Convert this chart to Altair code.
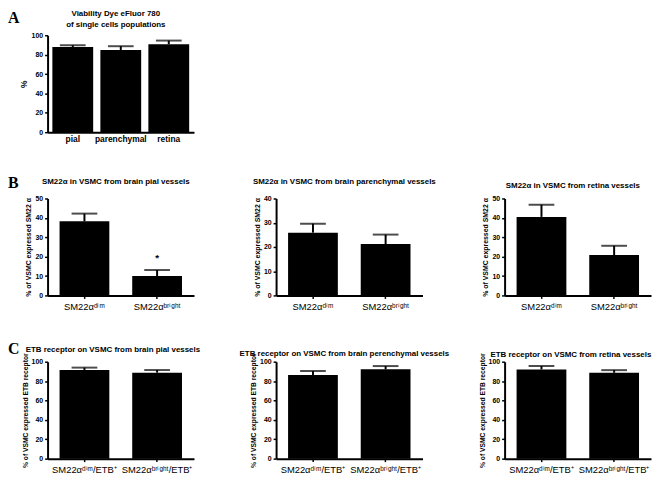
import altair as alt
import pandas as pd

FONT = "Liberation Sans"
SERIF = "Liberation Serif"

# ---- Panel A ----
a_cats = ["pial", "parenchymal", "retina"]
a_vals = [87.8, 84.7, 90.8]
a_errs = [1.9, 4.0, 3.7]
a_title = ["Viability Dye eFluor 780", "of single cells populations"]

# ---- Panel B ----
b_cats = ["SM22αᵈⁱᵐ", "SM22αᵇʳⁱᵍʰᵗ"]
b1_vals = [38.2, 10.0]
b1_errs = [4.0, 3.1]
b1_star = 20.6
b2_vals = [25.9, 21.2]
b2_errs = [3.7, 3.9]
b3_vals = [40.5, 20.8]
b3_errs = [6.3, 4.8]
b_titles = [
    "SM22α in VSMC from brain pial vessels",
    "SM22α in VSMC from brain parenchymal vessels",
    "SM22α in VSMC from retina vessels",
]
b_ytitle = "% of VSMC expressed SM22 α"

# ---- Panel C ----
c_cats = ["SM22αᵈⁱᵐ/ETB⁺", "SM22αᵇʳⁱᵍʰᵗ/ETB⁺"]
c1_vals = [91.5, 88.7]
c1_errs = [2.4, 2.7]
c2_vals = [86.2, 92.1]
c2_errs = [4.1, 3.4]
c3_vals = [92.0, 88.6]
c3_errs = [3.5, 2.7]
c_titles = [
    "ETB receptor on VSMC from brain pial vessels",
    "ETB receptor on VSMC from brain perenchymal vessels",
    "ETB receptor on VSMC from retina vessels",
]
c_ytitle = "% of VSMC expressed ETB receptor"

letters = ["A", "B", "C"]

W, H = 148, 98


def panel(cats, vals, errs, title_lines, ytitle, ymax, ystep, *, a_style=False,
          star=None, title_dx=-5, title_y=-12, ytitle_size=7.0,
          letter=None, letter_y=-10):
    df = pd.DataFrame({"cat": cats, "val": vals,
                       "up": [v + e for v, e in zip(vals, errs)]})
    if len(cats) == 3:
        sc = alt.Scale(paddingInner=0.15, paddingOuter=0.1)
    else:
        sc = alt.Scale(paddingInner=0.315, paddingOuter=0.165)
    xaxis = alt.Axis(
        title=None, labelAngle=0,
        labelFont=FONT,
        labelFontSize=8.5 if a_style else 9.5,
        labelFontWeight="bold" if a_style else "normal",
        ticks=not a_style, tickSize=3,
        labelPadding=2 if a_style else 3,
    )
    yaxis = alt.Axis(
        values=list(range(0, ymax + 1, ystep)), title=ytitle,
        titleFont=FONT, titleFontSize=ytitle_size, titleFontWeight="bold",
        titlePadding=3, labelFont=FONT, labelFontSize=7,
        labelFontWeight="bold", labelPadding=2, tickSize=3,
        labelOverlap=False,
    )
    x = alt.X("cat:N", sort=cats, scale=sc, axis=xaxis)
    yscale = alt.Scale(domain=[0, ymax], nice=False)
    y = alt.Y("val:Q", scale=yscale, axis=yaxis)
    yup = alt.Y("up:Q", scale=yscale, axis=yaxis)
    base = alt.Chart(df)
    bars = base.mark_bar(color="black").encode(x=x, y=y)
    rule = base.mark_rule(color="black", strokeWidth=2).encode(
        x=x, y=y, y2="up:Q")
    cap = base.mark_tick(color="black", thickness=2, size=26,
                         orient="horizontal").encode(x=x, y=yup)
    layers = [bars, rule, cap]
    if star is not None:
        sdf = pd.DataFrame({"cat": [cats[1]], "s": [star], "t": ["*"]})
        layers.append(
            alt.Chart(sdf).mark_text(font=FONT, fontSize=10, fontWeight="bold",
                                     baseline="middle", dy=3, color="black")
            .encode(x=x, y=alt.Y("s:Q", scale=yscale, axis=yaxis),
                    text="t:N"))
    # panel title (annotation text above the plot)
    n = len(title_lines)
    for i, line in enumerate(title_lines):
        ldf = pd.DataFrame({"t": [line]})
        layers.append(
            alt.Chart(ldf).mark_text(
                font=FONT, fontSize=8, fontWeight="bold", align="center",
                baseline="alphabetic", color="black",
            ).encode(text="t:N", x=alt.value(W / 2 + title_dx),
                     y=alt.value(title_y - 11 * (n - 1 - i))))
    if letter is not None:
        ldf = pd.DataFrame({"t": [letter]})
        layers.append(
            alt.Chart(ldf).mark_text(
                font=SERIF, fontSize=16, fontWeight="bold", align="left",
                baseline="alphabetic", color="black",
            ).encode(text="t:N", x=alt.value(-40), y=alt.value(letter_y)))
    return alt.layer(*layers).properties(width=W, height=H)


A = panel(a_cats, a_vals, a_errs, a_title, "%", 100, 20, a_style=True,
          ytitle_size=8.5, title_y=-8, letter=letters[0], letter_y=-12)
B1 = panel(b_cats, b1_vals, b1_errs, [b_titles[0]], b_ytitle, 50, 10,
           star=b1_star, title_y=-15, letter=letters[1], letter_y=-11)
B2 = panel(b_cats, b2_vals, b2_errs, [b_titles[1]], b_ytitle, 40, 10,
           title_y=-15)
B3 = panel(b_cats, b3_vals, b3_errs, [b_titles[2]], b_ytitle, 50, 10,
           title_y=-11)
C1 = panel(c_cats, c1_vals, c1_errs, [c_titles[0]], c_ytitle, 100, 20,
           title_dx=-8, ytitle_size=6.8, title_y=-10, letter=letters[2],
           letter_y=-8)
C2 = panel(c_cats, c2_vals, c2_errs, [c_titles[1]], c_ytitle, 100, 20,
           ytitle_size=6.8, title_y=-6)
C3 = panel(c_cats, c3_vals, c3_errs, [c_titles[2]], c_ytitle, 100, 20,
           ytitle_size=6.8, title_dx=-7, title_y=-5)

blank = alt.Chart(pd.DataFrame({"v": [0]})).mark_point(opacity=0).encode(
    x=alt.X("v:Q", axis=None), y=alt.Y("v:Q", axis=None)
).properties(width=W, height=H)

chart = alt.concat(
    A, blank, blank,
    B1, B2, B3,
    C1, C2, C3,
    columns=3, spacing={"row": 67, "column": 83}, bounds="flush",
).properties(padding=0).configure_axis(
    domainColor="black", domainWidth=2, tickColor="black", tickWidth=1.5,
    grid=False, labelColor="black", titleColor="black", labelOverlap=False,
).configure_view(stroke=None)

chart.save("out.html", embed_options={"renderer": "svg", "actions": False})
